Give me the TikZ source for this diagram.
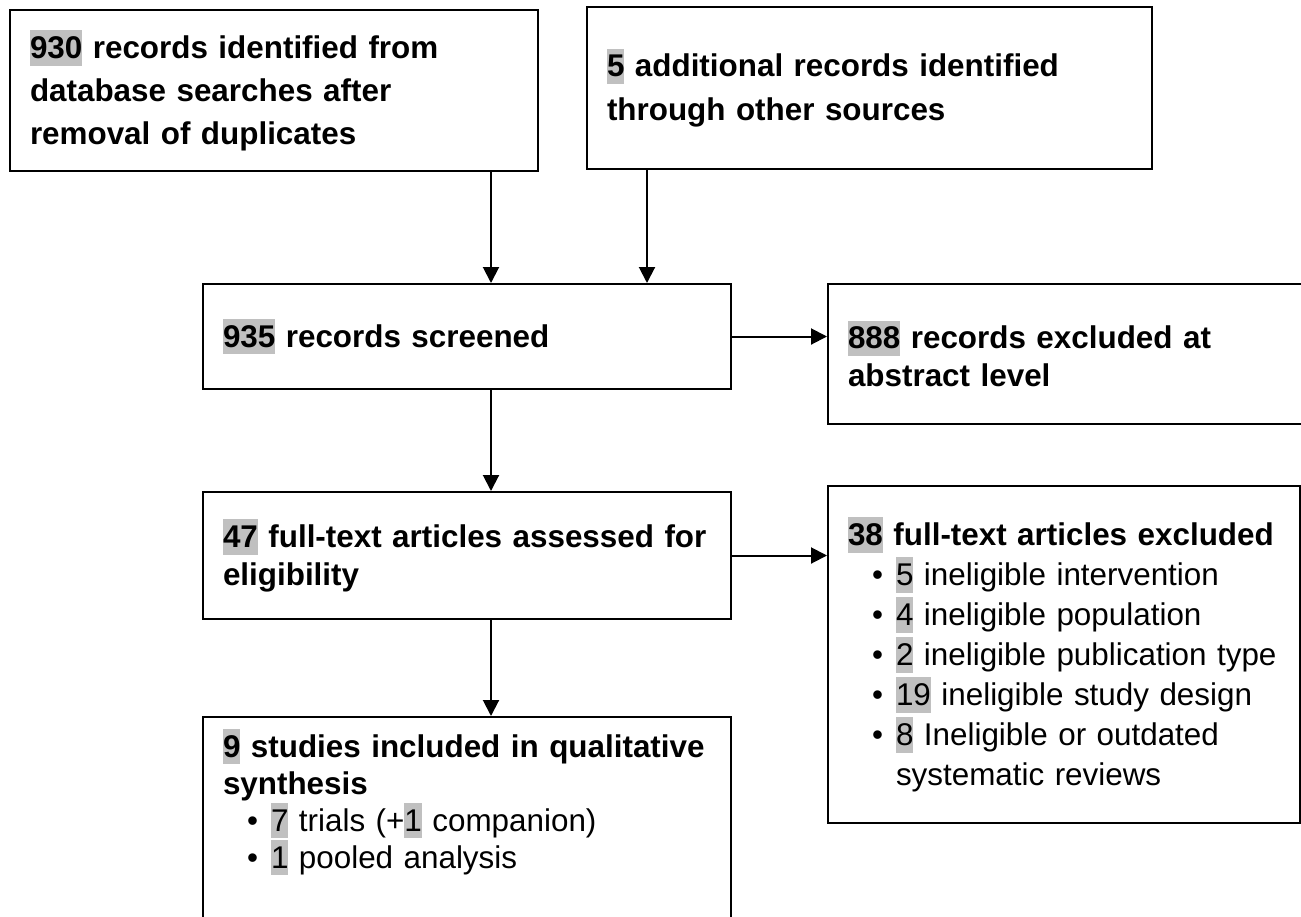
\documentclass[tikz,border=0pt]{standalone}
\usepackage{fontspec}
\setmainfont{Liberation Sans}
\usetikzlibrary{arrows.meta}
\definecolor{hlgray}{RGB}{192,192,192}
\newcommand{\hl}[1]{{\setlength{\fboxsep}{0pt}\colorbox{hlgray}{\rule[-0.23em]{0pt}{1.13em}#1}}}
\newcommand{\bul}{\makebox[24pt][l]{\hspace{12pt}\textbullet}}
\newcommand{\ind}{\hspace*{24pt}}

\begin{document}
\begin{tikzpicture}[x=0.5pt, y=-0.5pt,
    box/.style={draw, line width=1pt, inner xsep=10pt, inner ysep=0pt, align=left,
      font=\fontsize{15.7pt}{19pt}\selectfont\bfseries},
    arr/.style={-{Triangle[length=8pt,width=8pt]}, line width=1pt}]
  \useasboundingbox (0,0) rectangle (1301,916);
  \clip (0,0) rectangle (1301,916);
  \node [box, minimum width=264pt, minimum height=80.5pt, text width=244pt,
    font=\fontsize{15.7pt}{21.5pt}\selectfont\bfseries] (1) at (274,90.5)
    {\hl{930} records identified from\\ database searches after\\ removal of duplicates};
  \node [box, minimum width=282.5pt, minimum height=81pt, text width=262.5pt,
    font=\fontsize{15.7pt}{22pt}\selectfont\bfseries] (2) at (869.5,88)
    {\hl{5} additional records identified\\ through other sources};
  \node [box, minimum width=264pt, minimum height=52.5pt, text width=244pt] (3) at (467,336.5)
    {\hl{935} records screened};
  \node [box, minimum width=245pt, minimum height=70pt, text width=225pt] (4) at (1073,354)
    {\hl{888} records excluded at\\ abstract level};
  \node [box, minimum width=264pt, minimum height=63.5pt, text width=244pt] (5) at (467,555.5)
    {\hl{47} full-text articles assessed for\\ eligibility};
  \node [box, minimum width=236pt, minimum height=168.5pt, text width=216pt,
    font=\fontsize{15.7pt}{20pt}\selectfont\bfseries] (6) at (1064,654.5)
    {\hl{38} full-text articles excluded\\
     {\mdseries\bul\hl{5} ineligible intervention}\\
     {\mdseries\bul\hl{4} ineligible population}\\
     {\mdseries\bul\hl{2} ineligible publication type}\\
     {\mdseries\bul\hl{19} ineligible study design}\\
     {\mdseries\bul\hl{8} Ineligible or outdated}\\
     {\mdseries\ind systematic reviews}};
  \node [box, anchor=north, minimum width=264pt, text width=244pt, inner ysep=6pt,
    text depth=150pt, font=\fontsize{15.7pt}{18.5pt}\selectfont\bfseries] (7) at (467,716)
    {\hl{9} studies included in qualitative\\ synthesis\\
     {\mdseries\bul\hl{7} trials (+\hl{1} companion)}\\
     {\mdseries\bul\hl{1} pooled analysis}};
  % arrows
  \coordinate (a) at (491,0);
  \coordinate (b) at (647,0);
  \draw [ arr ] (1.south -| a) to (3.north -| a);
  \draw [ arr ] (2.south -| b) to (3.north -| b);
  \draw [ arr ] (3.east) to (3.east -| 4.west);
  \draw [ arr ] (3.south -| a) to (5.north -| a);
  \draw [ arr ] (5.east) to (5.east -| 6.west);
  \draw [ arr ] (5.south -| a) to (7.north -| a);
\end{tikzpicture}
\end{document}
